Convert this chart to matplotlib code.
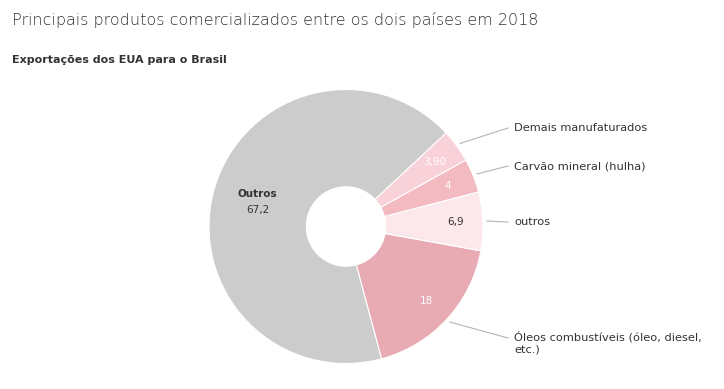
import numpy as np
import matplotlib
matplotlib.use("Agg")
import matplotlib.pyplot as plt

# data
produtos = ["Óleos combustíveis (óleo, diesel,\netc.)", "outros",
            "Carvão mineral (hulha)", "Demais manufaturados", "Outros"]
valores = [18, 6.9, 4, 3.90, 67.2]
rotulos = ["18", "6,9", "4", "3,90", "67,2"]
cores = ["#e8aab3", "#fce8eb", "#f4bac2", "#f8d2d8", "#cccccc"]
cor_valor = ["white", "#333333", "white", "white", "#333333"]

W, H = 724, 389
fig = plt.figure(figsize=(W / 100, H / 100), dpi=100)
ax = fig.add_axes([0, 0, 1, 1])

cx, cy, R = 346, H - 226.5, 137
wedges, _ = ax.pie(valores, colors=cores, startangle=-75, counterclock=True,
                   radius=R, center=(cx, cy),
                   wedgeprops=dict(width=R * 0.71, edgecolor="white", linewidth=0.8))
ax.set_xlim(0, W)
ax.set_ylim(0, H)
ax.set_aspect("equal")
ax.axis("off")

# leader label y positions (pixels from top)
label_y = [338, 222, 166, 128]

for i, w in enumerate(wedges):
    mid = np.deg2rad((w.theta1 + w.theta2) / 2)
    if i == 4:
        x, y = cx + 0.67 * R * np.cos(mid), cy + 0.67 * R * np.sin(mid)
        ax.text(x, y + 7, "Outros", ha="center", va="center", fontsize=7.5,
                fontweight="bold", color="#333333")
        ax.text(x, y - 9, rotulos[i], ha="center", va="center", fontsize=7.5,
                color="#333333")
        continue
    x, y = cx + 0.8 * R * np.cos(mid), cy + 0.8 * R * np.sin(mid)
    ax.text(x, y, rotulos[i], ha="center", va="center", fontsize=7.5,
            color=cor_valor[i])
    x0, y0 = cx + 1.03 * R * np.cos(mid), cy + 1.03 * R * np.sin(mid)
    ty = H - label_y[i]
    ax.plot([x0, 508], [y0, ty], color="#b5b5b5", lw=0.8)
    if "\n" in produtos[i]:
        ax.text(514, ty + 7, produtos[i], ha="left", va="top", fontsize=8.2,
                color="#333333", linespacing=1.3)
    else:
        ax.text(514, ty, produtos[i], ha="left", va="center", fontsize=8.2,
                color="#333333")

fig.text(12 / W, 1 - 20 / H, "Principais produtos comercializados entre os dois países em 2018",
         fontsize=11.5, color="#333333", fontweight="light", va="center")
fig.text(12 / W, 1 - 60 / H, "Exportações dos EUA para o Brasil",
         fontsize=8, color="#333333", fontweight="bold", va="center")

fig.savefig("out.png", dpi=100)
